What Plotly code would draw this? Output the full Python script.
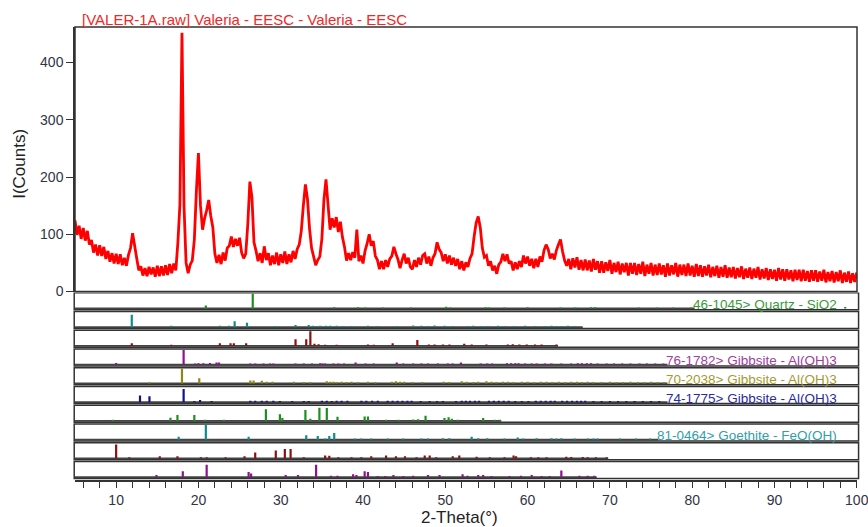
import plotly.graph_objects as go

# ---------------- data ----------------
two_theta_start = 5.0
two_theta_step = 0.25
counts = [
    124, 99, 115, 92, 111, 89, 106, 82,
    90, 68, 82, 63, 81, 62, 78, 57,
    71, 52, 67, 49, 66, 48, 65, 46,
    59, 45, 64, 76, 102, 80, 58, 37,
    44, 28, 41, 27, 43, 30, 42, 26,
    45, 27, 44, 28, 46, 29, 48, 32,
    49, 37, 85, 152, 452, 148, 50, 32,
    47, 54, 90, 175, 242, 150, 108, 128,
    142, 160, 132, 112, 66, 50, 64, 48,
    68, 54, 76, 80, 96, 78, 92, 80,
    94, 68, 58, 66, 118, 192, 165, 86,
    71, 53, 67, 50, 79, 55, 67, 46,
    63, 48, 68, 46, 65, 50, 70, 48,
    65, 51, 71, 57, 74, 82, 106, 150,
    187, 162, 110, 76, 61, 46, 55, 61,
    92, 160, 196, 152, 108, 128, 112, 130,
    104, 122, 95, 78, 54, 67, 55, 69,
    59, 108, 53, 63, 49, 71, 84, 100,
    80, 88, 62, 55, 39, 53, 39, 55,
    43, 57, 62, 78, 66, 56, 41, 55,
    66, 49, 59, 43, 39, 55, 43, 59,
    47, 63, 66, 49, 61, 45, 59, 66,
    86, 74, 68, 53, 65, 49, 63, 47,
    59, 45, 57, 39, 53, 37, 51, 43,
    58, 66, 96, 120, 131, 112, 76, 60,
    63, 45, 53, 37, 45, 31, 47, 52,
    66, 53, 65, 49, 53, 37, 51, 39,
    53, 43, 63, 49, 61, 45, 57, 41,
    57, 43, 61, 52, 72, 82, 74, 58,
    66, 56, 72, 82, 91, 70, 54, 45,
    57, 39, 58, 42, 60, 38, 55, 37,
    56, 37, 54, 35, 57, 38, 53, 33,
    53, 33, 51, 36, 55, 31, 50, 34,
    52, 30, 49, 34, 50, 28, 50, 31,
    50, 29, 48, 31, 52, 27, 47, 31,
    50, 28, 47, 29, 49, 30, 46, 26,
    49, 28, 46, 30, 50, 26, 47, 29,
    47, 27, 49, 28, 45, 26, 48, 27,
    46, 26, 44, 28, 47, 25, 43, 27,
    45, 24, 43, 26, 46, 24, 42, 25,
    43, 23, 41, 25, 44, 22, 40, 24,
    42, 22, 40, 24, 43, 21, 39, 23,
    41, 20, 39, 22, 38, 19, 41, 21,
    39, 19, 39, 21, 37, 18, 38, 20,
    38, 18, 38, 19, 36, 17, 37, 19,
    37, 17, 35, 19, 38, 16, 34, 18,
    36, 16, 34, 18, 37, 15, 33, 17,
    35, 15, 32, 17, 33,
]

# reference-card stick patterns (2-theta, relative intensity %)
p1_pos = [20.9, 26.6, 36.5, 39.4, 40.3, 42.4, 45.8, 50.1, 50.6, 54.9, 55.3, 57.2, 60.0, 64.0,
          65.8, 67.7, 68.2, 73.5, 75.7, 77.7, 79.9, 98.6]
p1_hts = [20, 100, 8, 8, 6, 6, 6, 12, 6, 8, 6, 6, 8, 6, 6, 8, 8, 6, 6, 6, 6, 10]

p2_pos = [11.9, 16.7, 22.6, 23.7, 24.4, 25.9, 29.3, 31.8, 33.4, 33.9, 34.4, 34.8, 35.5, 36.0,
          36.8, 37.6, 38.6, 40.6, 41.8, 44.1, 46.1, 47.1, 47.9, 48.7, 49.9, 50.9, 52.7, 53.4,
          54.4, 55.2, 56.4, 57.2, 58.4, 59.7, 60.9, 62.1, 62.9, 63.5, 64.1, 64.9, 65.7]
p2_hts = [85, 10, 10, 10, 40, 30, 8, 15, 15, 10, 8, 10, 10, 10, 10, 8, 8, 10, 8, 8, 12, 10,
          8, 12, 10, 8, 8, 10, 8, 8, 10, 8, 8, 10, 8, 8, 10, 8, 8, 10, 8]

p3_pos = [11.9, 16.7, 22.6, 23.9, 24.3, 25.8, 31.8, 33.1, 33.6, 34.1, 34.6, 35.4, 36.8, 40.6,
          41.3, 43.6, 46.6, 48.0, 48.7, 49.7, 50.5, 52.3, 53.2, 55.0, 57.6, 58.2, 59.0, 59.9,
          60.9, 61.7, 63.5]
p3_hts = [18, 8, 18, 18, 18, 18, 45, 45, 100, 15, 12, 8, 8, 10, 8, 18, 40, 10, 10, 10, 10,
          15, 10, 10, 10, 12, 10, 10, 10, 10, 10]

p4_pos = [10.0, 18.2, 19.6, 20.0, 20.6, 21.4, 22.2, 22.5, 26.3, 26.9, 27.9, 28.7, 29.1, 31.8,
          32.8, 33.8, 34.8, 35.1, 35.4, 36.4, 37.0, 37.7, 39.1, 40.3, 41.3, 44.1, 44.9, 46.1,
          47.1, 47.9, 49.1, 50.3, 50.9, 51.9, 54.3, 55.1, 55.7, 57.5, 58.0, 58.5, 58.9, 59.7,
          60.5, 61.1, 62.1, 62.9, 64.1, 65.3, 66.1, 66.6, 67.2, 67.7, 68.5, 69.6, 70.5, 71.5,
          72.5, 73.6, 74.5, 75.5, 76.5]
p4_hts = [12, 100, 8, 10, 10, 12, 15, 15, 8, 8, 8, 8, 8, 8, 8, 8, 10, 8, 8, 8, 8, 8, 15, 8,
          8, 15, 8, 8, 8, 8, 8, 8, 8, 15, 8, 8, 8, 10, 10, 10, 10, 8, 8, 8, 8, 8, 8, 8, 10, 10,
          10, 10, 8, 8, 8, 8, 8, 8, 8, 8, 8]

p5_pos = [14.05, 18.0, 20.1, 26.3, 26.7, 27.7, 28.3, 29.0, 31.6, 32.8, 33.6, 35.6, 36.0, 36.4,
          36.8, 37.4, 38.0, 38.6, 39.4, 40.6, 41.5, 43.5, 44.0, 44.5, 45.0, 46.0, 47.2, 49.8,
          50.5, 52.0, 52.6, 53.4, 54.0, 55.0, 55.6, 56.2, 57.0, 57.6, 58.3, 59.3, 60.0, 60.8,
          61.6, 62.3, 63.0, 63.8, 64.6, 65.3, 66.0, 66.6, 67.3, 68.0, 69.0, 70.0, 70.8, 71.6,
          72.5, 73.4, 74.2, 75.0, 75.8, 76.6]
p5_hts = [8, 100, 35, 20, 20, 18, 12, 12, 12, 10, 10, 15, 12, 12, 10, 12, 10, 12, 10, 12, 10,
          12, 15, 12, 12, 10, 10, 12, 10, 15, 12, 10, 12, 15, 12, 10, 12, 12, 10, 12, 12, 10,
          12, 12, 10, 12, 10, 12, 12, 10, 12, 10, 10, 12, 10, 10, 12, 10, 10, 12, 10, 10]

p6_pos = [12.9, 14.05, 18.2, 19.5, 20.2, 21.6, 26.3, 26.9, 27.7, 28.3, 29.1, 29.9, 31.4, 32.8,
          33.4, 35.0, 35.6, 36.2, 36.8, 37.4, 38.1, 39.8, 40.4, 41.1, 41.8, 43.0, 43.6, 44.2,
          44.8, 45.4, 45.9, 47.0, 48.1, 49.0, 49.7, 51.3, 52.0, 52.5, 53.0, 53.6, 54.1, 55.3,
          55.9, 56.5, 57.1, 57.7, 58.5, 59.3, 60.1, 61.0, 61.6, 62.2, 62.8, 63.3, 64.2, 64.8,
          65.4, 66.0, 66.5, 67.0, 68.0, 69.0, 70.0, 71.0, 72.0, 73.0, 74.0, 75.0, 76.0]
p6_hts = [45, 40, 90, 8, 15, 8, 10, 10, 10, 10, 10, 8, 8, 8, 8, 10, 10, 8, 10, 10, 10, 10, 10,
          10, 10, 10, 10, 10, 10, 10, 10, 8, 8, 8, 8, 8, 10, 10, 10, 10, 10, 10, 10, 10, 10,
          10, 8, 8, 8, 10, 10, 10, 10, 10, 10, 10, 10, 10, 10, 10, 8, 8, 8, 8, 8, 8, 8, 8, 8]

p7_pos = [9.6, 16.6, 17.45, 19.5, 20.8, 23.1, 28.2, 29.9, 30.2, 33.0, 33.6, 34.7, 35.6, 36.9,
          40.2, 40.6, 42.8, 44.3, 46.1, 46.7, 47.6, 49.9, 50.4, 50.8, 51.5, 54.6, 56.0, 56.6]
p7_hts = [8, 22, 40, 40, 8, 8, 80, 45, 20, 75, 15, 90, 88, 28, 30, 30, 8, 8, 10, 12, 35, 20,
          25, 15, 8, 20, 8, 8]

p8_pos = [17.6, 20.9, 26.1, 33.1, 34.5, 35.4, 35.9, 36.5, 39.0, 39.8, 41.0, 43.0, 44.9, 47.1,
          47.9, 49.7, 50.5, 53.2, 54.0, 55.1, 57.2, 58.8, 59.5, 61.1, 62.9, 63.5, 64.1, 65.7,
          67.3, 68.0, 68.5, 71.2, 73.2, 74.9]
p8_hts = [20, 100, 20, 30, 25, 8, 25, 45, 8, 8, 8, 8, 8, 8, 8, 10, 10, 20, 10, 10, 8, 15, 8,
          10, 10, 8, 10, 8, 8, 8, 8, 8, 8, 8]

p9_pos = [10.0, 11.6, 15.3, 17.45, 20.3, 21.0, 23.3, 25.6, 26.9, 29.4, 30.5, 31.2, 32.8, 35.4,
          35.9, 37.0, 38.6, 39.8, 41.0, 42.8, 44.0, 45.1, 46.5, 47.5, 48.1, 48.9, 50.9, 51.7,
          53.8, 55.4, 57.2, 58.3, 58.6, 60.4, 61.3, 62.3, 64.7, 65.3, 66.7, 67.3, 68.3, 69.6]
p9_hts = [95, 8, 15, 15, 8, 8, 8, 15, 40, 55, 65, 65, 8, 20, 18, 8, 8, 8, 15, 20, 15, 15, 8,
          20, 20, 8, 15, 20, 12, 8, 8, 20, 15, 8, 8, 8, 12, 10, 10, 8, 8, 8]

p10_pos = [14.9, 18.1, 21.0, 26.1, 26.4, 30.6, 32.1, 34.3, 36.1, 36.9, 38.8, 39.2, 40.2, 40.6,
           41.8, 42.7, 43.7, 44.9, 46.1, 47.9, 49.3, 52.1, 52.7, 54.0, 54.6, 55.6, 57.8, 59.2,
           60.5, 61.7, 62.7, 64.1, 66.3, 67.3, 68.1]
p10_hts = [15, 40, 85, 35, 25, 15, 15, 85, 10, 10, 20, 15, 40, 35, 8, 8, 15, 8, 10, 15, 15,
           20, 10, 15, 15, 8, 8, 10, 15, 8, 8, 45, 10, 10, 10]

card_ends = [80.3, 66.7, 63.7, 77.0, 77.0, 77.0, 56.8, 75.9, 69.8, 68.4]
card_labels = ["46-1045> Quartz - SiO2", "", "", "76-1782> Gibbsite - Al(OH)3",
               "70-2038> Gibbsite - Al(OH)3", "74-1775> Gibbsite - Al(OH)3", "",
               "81-0464> Goethite - FeO(OH)", "", ""]

y_ticks = [0, 100, 200, 300, 400]
x_ticks = [10, 20, 30, 40, 50, 60, 70, 80, 90, 100]

# ---------------- styles ----------------
stick_colors = ["#1e8f1e", "#0e8c8c", "#8b1010", "#8e128e", "#8a8a10",
                "#12128c", "#1e8f1e", "#0e8c8c", "#8b1010", "#8e128e"]
label_colors = ["#3a9a3a", "#2a9a9a", "#993030", "#a040a0", "#a89a30",
                "#2a2aa0", "#3a9a3a", "#30a0a8", "#993030", "#a040a0"]
FONT = "Liberation Sans, Arial, sans-serif"
AX = "#333333"

two_theta = [two_theta_start + i * two_theta_step for i in range(len(counts))]

fig = go.Figure()
fig.add_trace(go.Scatter(x=two_theta, y=counts, mode="lines",
                         line=dict(color="#ff0000", width=2.8, simplify=False),
                         xaxis="x", yaxis="y", hoverinfo="skip", showlegend=False))

cards = [(p1_pos, p1_hts), (p2_pos, p2_hts), (p3_pos, p3_hts), (p4_pos, p4_hts),
         (p5_pos, p5_hts), (p6_pos, p6_hts), (p7_pos, p7_hts), (p8_pos, p8_hts),
         (p9_pos, p9_hts), (p10_pos, p10_hts)]

n = len(cards)
shapes = []
annotations = []
BOX_LO, BOX_HI, BASE_OFF, STICK_SCALE = 0.08, 0.98, 0.15, 0.0078
for k, (pos, hts) in enumerate(cards):
    base = n - 1 - k
    y0 = base + BASE_OFF
    xs, ys = [], []
    for p, h in zip(pos, hts):
        xs += [p, p, None]
        ys += [y0, y0 + h * STICK_SCALE, None]
    fig.add_trace(go.Scatter(x=[5, card_ends[k]], y=[y0, y0], mode="lines",
                             line=dict(color="#444444", width=1.8), xaxis="x", yaxis="y2",
                             hoverinfo="skip", showlegend=False))
    fig.add_trace(go.Scatter(x=xs, y=ys, mode="lines",
                             line=dict(color=stick_colors[k], width=2.2), xaxis="x", yaxis="y2",
                             hoverinfo="skip", showlegend=False))
    shapes.append(dict(type="rect", xref="paper", yref="y2", x0=-0.001, x1=1.002,
                       y0=base + BOX_LO, y1=base + BOX_HI,
                       line=dict(color=AX, width=1.5), fillcolor="rgba(0,0,0,0)"))
    if card_labels[k]:
        annotations.append(dict(x=97.8, y=base + 0.36, xref="x", yref="y2", text=card_labels[k],
                                showarrow=False, xanchor="right", yanchor="middle",
                                font=dict(family=FONT, size=13.5, color=label_colors[k])))

shapes.append(dict(type="rect", xref="paper", yref="paper", x0=0, x1=1, y0=0.416, y1=1,
                   line=dict(color=AX, width=1.5), fillcolor="rgba(0,0,0,0)", layer="above"))

annotations += [
    dict(x=0.0064, y=1.017, xref="paper", yref="paper", text="[VALER-1A.raw] Valeria - EESC - Valeria - EESC",
         showarrow=False, xanchor="left", yanchor="middle",
         font=dict(family=FONT, size=15, color="#f02828")),
    dict(x=-0.0703, y=0.698, xref="paper", yref="paper", text="I(Counts)", textangle=-90,
         showarrow=False, xanchor="center", yanchor="middle",
         font=dict(family=FONT, size=17, color="#222222")),
    dict(x=0.4923, y=-0.0817, xref="paper", yref="paper", text="2-Theta(°)",
         showarrow=False, xanchor="center", yanchor="middle",
         font=dict(family=FONT, size=17, color="#222222")),
]

fig.update_layout(
    width=868, height=527,
    margin=dict(l=75, r=11, t=27, b=47, autoexpand=False),
    paper_bgcolor="white", plot_bgcolor="white",
    font=dict(family=FONT, color=AX),
    xaxis=dict(range=[5, 100.03], anchor="y2", domain=[0, 1], showgrid=False, zeroline=False,
               automargin=False,
               showline=True, linecolor=AX, linewidth=1.5, ticks="outside", ticklen=6,
               tickcolor=AX, tickmode="array", tickvals=x_ticks, ticklabeloverflow="allow",
               tickfont=dict(family=FONT, size=14, color="#333344"),
               minor=dict(dtick=2, tick0=0, ticks="outside", ticklen=6, tickcolor=AX, showgrid=False)),
    yaxis=dict(range=[0, 462], domain=[0.416, 1], anchor="x", showgrid=False, zeroline=False,
               automargin=False,
               showline=True, linecolor=AX, linewidth=1.5, ticks="outside", ticklen=7,
               tickcolor=AX, tickvals=y_ticks, tickfont=dict(family=FONT, size=14, color="#333344")),
    yaxis2=dict(range=[0, 10], domain=[0, 0.414], anchor="x", visible=False),
    shapes=shapes, annotations=annotations, showlegend=False,
)

fig.write_html("out.html")
